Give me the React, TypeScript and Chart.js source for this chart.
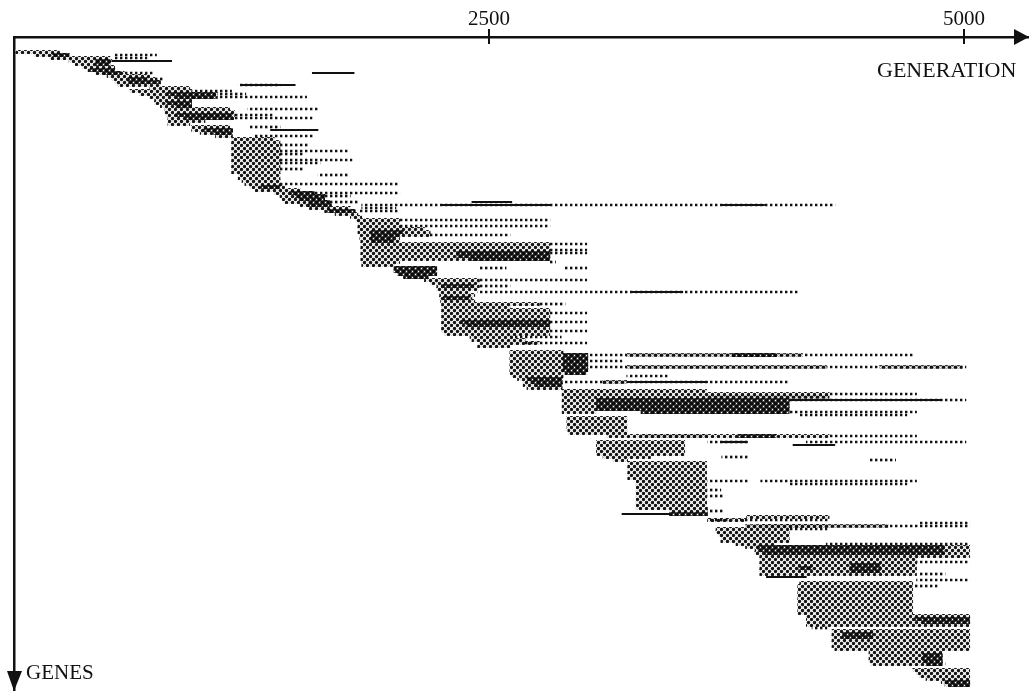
import React, { useEffect, useRef } from "react";
import { Chart, registerables } from "chart.js";

Chart.register(...registerables);

type Row = [number, number, number];

const tickValues = [2500, 5000];
const xAxisName = "GENERATION";
const yAxisName = "GENES";

// [gene, first generation, last generation]
const mediumRows: Row[] = [
  [5,10,240],[6,110,290],[7,190,505],[8,290,515],[9,320,505],[10,360,530],[11,390,530],[12,430,580],[13,490,715],[14,515,740],
  [15,530,770],[16,545,770],[17,715,925],[18,610,935],[19,660,1070],[20,715,1070],[21,740,935],[22,740,935],[23,770,935],[24,795,1135],
  [25,795,1160],[26,800,1160],[27,810,1160],[28,810,1005],[29,810,925],[30,935,1135],[31,935,1150],[32,980,1150],[33,1060,1150],[34,1145,1370],
  [35,1145,1400],[36,1145,1400],[37,1145,1400],[38,1145,1400],[39,1145,1400],[40,1145,1400],[41,1145,1400],[42,1145,1400],[43,1145,1400],[44,1145,1400],[45,1145,1400],
  [46,1180,1400],[47,1180,1400],[48,1200,1400],[49,1215,1400],[50,1240,1425],[51,1270,1505],[52,1370,1580],[53,1400,1635],[54,1410,1635],[55,1425,1660],
  [56,1505,1670],[57,1555,1770],[58,1635,1795],[59,1690,1810],[60,1770,1830],[61,1800,2030],[62,1810,2030],[63,1810,2030],[64,1810,2160],[65,1810,2190],
  [66,1820,2190],[67,1820,2030],[68,1825,2030],[69,1825,2820],[70,1825,2820],[71,1825,2820],[72,1825,2820],[73,1825,2820],[74,1825,2820],[75,1830,2030],[76,1830,2005],
  [81,2160,2450],[82,2190,2450],[83,2225,2450],[84,2225,2440],[85,2240,2400],[86,2240,2425],[87,2240,2410],[88,2245,2425],[89,2250,2765],[90,2250,2610],
  [91,2250,2820],[92,2250,2820],[93,2250,2820],[94,2250,2820],[95,2250,2820],[96,2250,2820],[97,2250,2820],[98,2250,2820],[99,2265,2820],
  [100,2400,2625],[101,2410,2690],[102,2450,2765],[103,2440,2610],[105,2610,2890],[106,2610,2890],[107,2610,2890],[108,2610,2890],[109,2610,2890],[110,2610,2890],
  [111,2610,2890],[112,2610,2890],[113,2620,2890],[114,2650,2885],[115,2680,2885],[116,2680,2885],[117,2700,2885],
  [118,2885,3645],[119,2885,4290],[120,2885,3750],[121,2885,3065],[122,2885,3065],[123,2885,3065],[124,2885,3065],[125,2885,3065],
  [127,2910,3225],[128,2910,3225],[129,2910,3225],[130,2910,3225],[131,2915,3225],[132,2920,3225],[133,3120,4290],
  [135,3065,3530],[136,3065,3530],[137,3065,3530],[138,3065,3530],[139,3065,3530],[140,3100,3350],[141,3150,3230],
  [142,3230,3645],[143,3230,3645],[144,3230,3645],[145,3230,3645],[146,3230,3645],[147,3230,3645],
  [148,3275,3645],[149,3275,3645],[150,3275,3645],[151,3275,3645],[152,3275,3645],[153,3275,3645],[154,3275,3645],[155,3275,3645],[156,3275,3645],[157,3275,3650],
  [158,3450,3650],[160,3855,4290],[161,3650,3855],[163,3940,4275],[164,3695,4080],[165,3695,4080],[166,3710,4080],[167,3720,4080],[168,3720,4080],[169,3800,4000],
  [170,3850,5030],[171,3900,5030],[172,3900,5030],[173,3925,5030],
  [174,3925,4750],[175,3925,4750],[176,3925,4750],[177,3925,4750],[178,3925,4750],[179,3925,4750],
  [182,4135,4730],[183,4125,4730],[184,4125,4730],[185,4125,4730],[186,4125,4730],[187,4125,4730],[188,4125,4730],[189,4125,4730],[190,4125,4730],[191,4125,4730],[192,4125,4730],
  [193,4170,5030],[194,4170,5030],[195,4170,5030],[196,4170,5030],[198,4305,5030],[199,4305,5030],[200,4305,5030],[201,4305,5030],[202,4305,5030],[203,4305,5030],[204,4320,5030],
  [205,4500,4885],[206,4500,4885],[207,4500,4885],[208,4500,4885],[209,4510,4885],
  [211,4730,5030],[212,4750,5030],[213,4765,5030],[214,4800,5030],[215,4880,5030],[216,4900,5030],
];

const streakRows: Row[] = [
  [106,3225,4150],[110,3225,4275],[110,4555,4990],[115,3100,3225],[133,3300,3650],[163,3850,4600],[120,3650,4290],
];

const darkRows: Row[] = [
  [6,200,290],[8,430,505],[9,430,505],[11,400,530],[12,470,560],[14,600,700],[15,600,770],[19,800,1060],[20,850,1060],[22,800,935],[23,850,935],
  [26,850,1150],[27,900,1150],[31,1000,1150],[32,1050,1150],[50,1300,1400],[52,1450,1580],[53,1480,1635],[54,1500,1635],[55,1550,1660],[56,1550,1670],[58,1650,1795],
  [65,1880,2050],[66,1880,2030],[67,1880,2000],[68,1880,2000],[72,2330,2820],[73,2330,2820],[74,2400,2820],
  [77,2000,2225],[78,2000,2225],[79,2020,2225],[80,2050,2180],[83,2250,2420],[87,2260,2400],[95,2350,2820],[96,2380,2820],
  [106,2890,3020],[107,2890,3020],[108,2890,3020],[109,2890,3020],[110,2890,3020],[111,2890,3020],[112,2900,3010],
  [114,2700,2885],[115,2720,2885],[116,2750,2885],[106,3780,4010],
  [121,3065,4080],[122,3065,4080],[123,3065,4080],[124,3065,4080],[125,3300,4080],[133,3810,4010],
  [159,3450,3650],[170,3915,4895],[171,3915,4895],[172,3950,4895],
  [176,4400,4560],[177,4400,4560],[178,4400,4560],[177,4130,4200],
  [194,4740,5030],[195,4780,5030],[199,4360,4520],[200,4360,4520],[206,4780,4885],[207,4780,4885],[208,4780,4885],[209,4800,4885],[215,4900,5030],[216,4920,5030],
];

const dottedRows: Row[] = [
  [6,530,750],[7,530,700],[12,540,735],[14,730,790],[16,1180,1400],[18,935,1145],[19,1070,1220],[20,1070,1540],[24,1230,1600],[26,1160,1360],[27,1160,1570],
  [30,1240,1400],[33,1270,1580],[36,1400,1550],[38,1400,1760],[39,1400,1530],[41,1400,1780],[42,1400,1610],[44,1400,1530],[46,1600,1760],
  [49,1400,2030],[52,1580,2030],[53,1610,1770],[55,1660,1810],[57,1830,2010],[58,1820,2030],[56,1830,4320],[61,2030,2820],[63,2030,2820],[66,2190,2610],
  [69,2820,3015],[71,2820,3015],[72,2820,3015],[75,2820,2850],[77,2450,2590],[77,2900,3015],[81,2440,3015],[83,2450,2610],[85,2440,4130],
  [89,2765,2900],[92,2820,3015],[95,2820,3015],[98,2820,3015],[100,2610,2880],[102,2680,3015],
  [106,3020,4730],[108,3020,3200],[110,3020,5010],[113,3225,3440],[115,2900,4080],[119,4290,4750],[121,4080,5010],[125,4080,4750],[126,4135,4700],
  [133,4290,4750],[135,3650,3860],[135,4170,5010],[140,3725,3870],[141,4500,4640],[148,3650,3870],[148,3930,4750],[149,4080,4700],
  [151,3650,3720],[153,3650,3730],[158,3650,3730],[161,3650,4290],[162,4765,5030],[163,4275,5030],[164,4080,4280],[169,4275,5030],[175,4750,5030],[179,4765,4900],
  [181,4750,5030],[183,4730,4860],[197,4200,4280],[209,4885,4900],
];

const thinRows: Row[] = [
  [8,515,830],[12,1570,1790],[56,2250,2830],[56,3720,3950],[55,2410,2620],[85,3250,3520],[115,3225,3650],[121,4080,4885],[136,4100,4320],
  [180,3960,4170],[16,1200,1480],[31,1350,1600],[135,3720,3860],[159,3200,3450],
];

const toPoints = (rows: Row[]) => rows.map(([gene, from, to]) => ({ y: gene, x: [from, to] }));

function halftone(radius: number, ink: string): CanvasPattern {
  const size = 6;
  const c = document.createElement("canvas");
  c.width = size;
  c.height = size;
  const g = c.getContext("2d")!;
  g.fillStyle = "#fff";
  g.fillRect(0, 0, size, size);
  g.fillStyle = ink;
  const centres = [[1.5, 1.5], [4.5, 4.5]];
  for (const [cx, cy] of centres) {
    for (const dx of [-size, 0, size]) {
      for (const dy of [-size, 0, size]) {
        g.beginPath();
        g.arc(cx + dx, cy + dy, radius, 0, Math.PI * 2);
        g.fill();
      }
    }
  }
  return g.createPattern(c, "repeat")!;
}

function dots(): CanvasPattern {
  const c = document.createElement("canvas");
  c.width = 5;
  c.height = 1;
  const g = c.getContext("2d")!;
  g.fillStyle = "#111";
  g.fillRect(0, 0, 2.4, 1);
  return g.createPattern(c, "repeat")!;
}

const INK = "#111";

const furniture = {
  id: "furniture",
  afterDraw(chart: any) {
    const { ctx, scales } = chart;
    const axisY = scales.x.bottom;
    const axisX = scales.y.right;
    ctx.save();
    ctx.fillStyle = INK;
    ctx.strokeStyle = INK;
    ctx.lineWidth = 2;
    for (const v of tickValues) {
      const px = scales.x.getPixelForValue(v);
      ctx.beginPath();
      ctx.moveTo(px, axisY);
      ctx.lineTo(px, axisY + 7);
      ctx.stroke();
    }
    ctx.beginPath();
    ctx.moveTo(1014, axisY - 8);
    ctx.lineTo(1029, axisY);
    ctx.lineTo(1014, axisY + 8);
    ctx.closePath();
    ctx.fill();
    ctx.beginPath();
    ctx.moveTo(axisX - 7, 671);
    ctx.lineTo(axisX, 691);
    ctx.lineTo(axisX + 8, 671);
    ctx.closePath();
    ctx.fill();
    ctx.textBaseline = "alphabetic";
    ctx.textAlign = "left";
    ctx.font = "22px 'Liberation Serif'";
    ctx.fillText(xAxisName, 877, 77);
    ctx.font = "21px 'Liberation Serif'";
    ctx.fillText(yAxisName, 26, 679);
    ctx.restore();
  },
};

export default function App() {
  const ref = useRef<HTMLCanvasElement | null>(null);

  useEffect(() => {
    document.body.style.margin = "0";
    document.body.style.background = "#fff";
    const bar = (data: Row[], thickness: number, color: any) => ({
      data: toPoints(data),
      barThickness: thickness,
      backgroundColor: color,
      borderWidth: 0,
      grouped: false,
    });
    const chart = new Chart(ref.current!, {
      type: "bar",
      data: {
        datasets: [
          bar(darkRows, 3.4, halftone(2.3, "#0c0c0c")),
          bar(thinRows, 1.5, "#111"),
          bar(streakRows, 3, halftone(1.9, "#111")),
          bar(dottedRows, 2, dots()),
          bar(mediumRows, 3.4, halftone(1.7, "#151515")),
        ],
      },
      options: {
        indexAxis: "y",
        animation: false,
        responsive: false,
        layout: { padding: 0 },
        plugins: { legend: { display: false }, tooltip: { enabled: false }, title: { display: false } },
        scales: {
          x: {
            type: "linear",
            position: "top",
            min: 0,
            max: 5342,
            offset: false,
            afterBuildTicks: (s: any) => {
              s.ticks = tickValues.map((value) => ({ value }));
            },
            afterFit: (s: any) => {
              s.height = 37;
            },
            grid: { drawOnChartArea: false, drawTicks: true, tickLength: 8, tickWidth: 2, tickColor: INK, lineWidth: 2, color: INK },
            border: { display: true, color: INK, width: 2.5 },
            ticks: {
              color: INK,
              padding: -3,
              maxRotation: 0,
              autoSkip: false,
              font: { family: "'Liberation Serif'", size: 21 },
              callback: (v: any) => String(v),
            },
          },
          y: {
            type: "linear",
            reverse: true,
            min: 0,
            max: 218,
            offset: false,
            afterFit: (s: any) => {
              s.width = 14;
            },
            grid: { display: false },
            border: { display: true, color: INK, width: 2.5 },
            ticks: { display: false },
          },
        },
      },
      plugins: [furniture],
    } as any);
    return () => chart.destroy();
  }, []);

  return <canvas ref={ref} width={1029} height={691} style={{ display: "block" }} />;
}
